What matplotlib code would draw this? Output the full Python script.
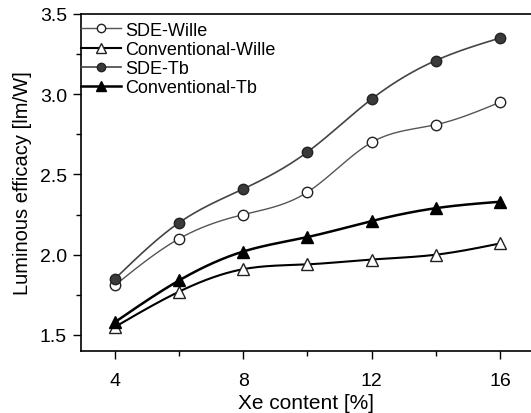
import numpy as np
import matplotlib
matplotlib.use("Agg")
import matplotlib.pyplot as plt

plt.rcParams['font.family'] = ['Liberation Sans', 'DejaVu Sans']

xe = [4, 6, 8, 10, 12, 14, 16]
sde_wille = [1.81, 2.10, 2.25, 2.39, 2.70, 2.81, 2.95]
conv_wille = [1.55, 1.77, 1.91, 1.94, 1.97, 2.00, 2.07]
sde_tb = [1.85, 2.20, 2.41, 2.64, 2.97, 3.21, 3.35]
conv_tb = [1.58, 1.84, 2.02, 2.11, 2.21, 2.29, 2.33]


def spline(x, y, n=200):
    x = np.asarray(x, float); y = np.asarray(y, float)
    m = len(x)
    h = np.diff(x)
    A = np.zeros((m, m)); b = np.zeros(m)
    A[0, 0] = A[-1, -1] = 1
    for i in range(1, m - 1):
        A[i, i - 1] = h[i - 1]; A[i, i] = 2 * (h[i - 1] + h[i]); A[i, i + 1] = h[i]
        b[i] = 3 * ((y[i + 1] - y[i]) / h[i] - (y[i] - y[i - 1]) / h[i - 1])
    c = np.linalg.solve(A, b)
    xs = np.linspace(x[0], x[-1], n)
    ys = np.empty_like(xs)
    for k, xv in enumerate(xs):
        i = min(np.searchsorted(x, xv, side='right') - 1, m - 2)
        d = xv - x[i]
        bb = (y[i + 1] - y[i]) / h[i] - h[i] * (2 * c[i] + c[i + 1]) / 3
        dd = (c[i + 1] - c[i]) / (3 * h[i])
        ys[k] = y[i] + bb * d + c[i] * d * d + dd * d ** 3
    return xs, ys


fig = plt.figure(figsize=(5.31, 4.14), dpi=100)
ax = fig.add_axes([81 / 531, 1 - 352 / 414, 1 - 81 / 531, (352 - 15) / 414])

series = [
    (sde_wille, 'SDE-Wille', dict(marker='o', mfc='white', mec='#222222', color='#555555', lw=1.0, ms=7.5)),
    (conv_wille, 'Conventional-Wille', dict(marker='^', mfc='white', mec='#222222', color='black', lw=1.5, ms=8.5)),
    (sde_tb, 'SDE-Tb', dict(marker='o', mfc='#3a3a3a', mec='#222222', color='#444444', lw=1.2, ms=7.5)),
    (conv_tb, 'Conventional-Tb', dict(marker='^', mfc='black', mec='black', color='black', lw=1.8, ms=8.5)),
]
handles = []
for y, lab, st in series:
    xs, ys = spline(xe, y)
    ax.plot(xs, ys, color=st['color'], lw=st['lw'], zorder=2)
    ax.plot(xe, y, ls='none', marker=st['marker'], mfc=st['mfc'], mec=st['mec'], ms=st['ms'], mew=1.0, zorder=3)
    h, = ax.plot([], [], color=st['color'], lw=st['lw'], marker=st['marker'], mfc=st['mfc'],
                 mec=st['mec'], ms=st['ms'] - 1.5, mew=1.0, label=lab)
    handles.append(h)

ax.set_xlim(2.94, 16.97)
ax.set_ylim(1.4, 3.5)
ax.set_xticks([4, 8, 12, 16])
ax.set_xticks([6, 10, 14], minor=True)
ax.set_yticks([1.5, 2.0, 2.5, 3.0, 3.5])
ax.set_yticks([1.75, 2.25, 2.75, 3.25], minor=True)
ax.tick_params(which='both', direction='out', labelsize=14, width=1.0)
ax.tick_params(which='major', length=6)
ax.tick_params(which='minor', length=3.5)
ax.tick_params(axis='x', which='major', pad=9)
ax.tick_params(axis='y', which='major', pad=4)
for s in ax.spines.values():
    s.set_linewidth(1.2)
ax.spines['right'].set_visible(False)

ax.set_xlabel('Xe content [%]', fontsize=15, labelpad=3)
ax.set_ylabel('Luminous efficacy [lm/W]', fontsize=14.5, labelpad=6)

ax.legend(handles=handles, loc='upper left', bbox_to_anchor=(-0.005, 0.985), frameon=False,
          fontsize=13, handlelength=2.2, handletextpad=0.2, borderaxespad=0.0,
          labelspacing=0.12, borderpad=0.15)

fig.savefig('out.png', dpi=100)
